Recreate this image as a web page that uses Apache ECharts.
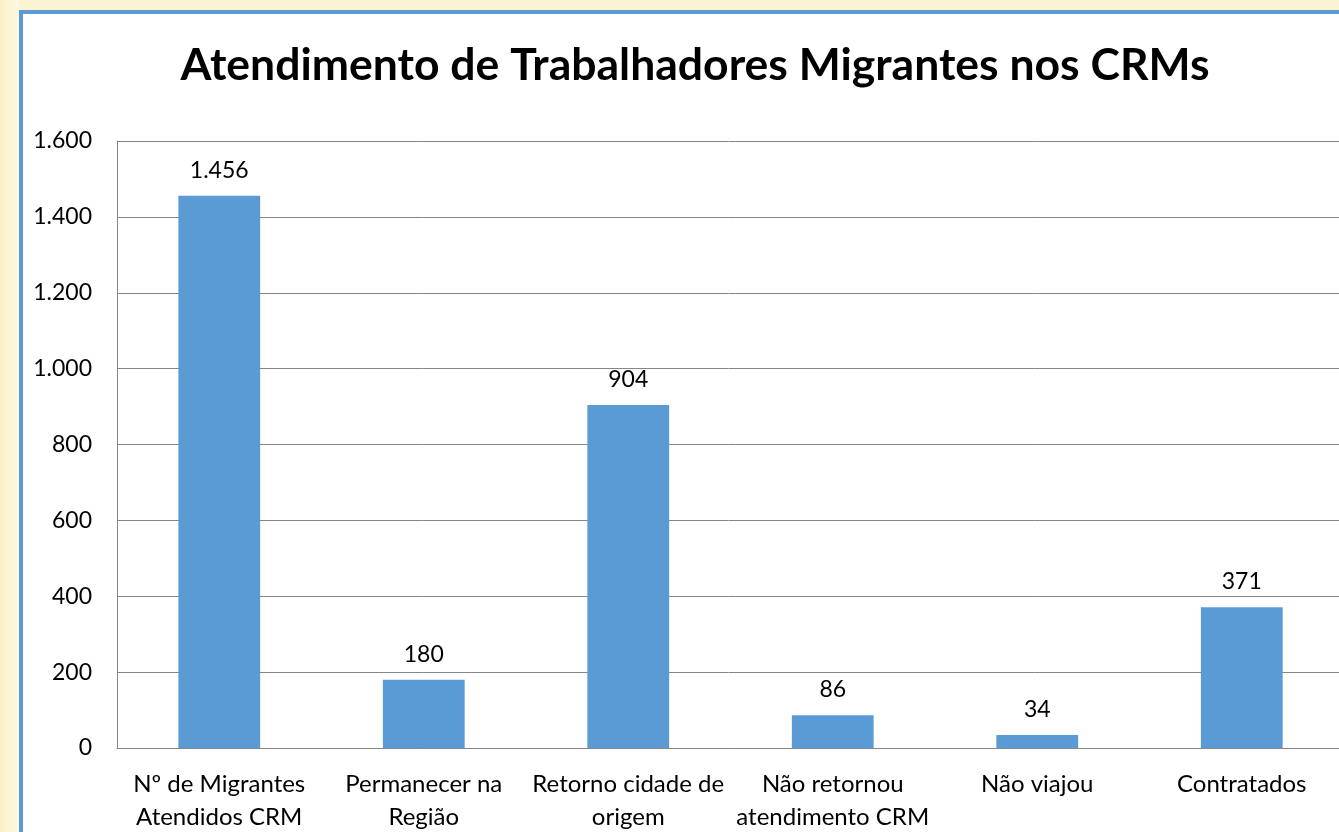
<!DOCTYPE html>
<html><head><meta charset="utf-8">
<script src="https://cdn.jsdelivr.net/npm/echarts@6/dist/echarts.min.js"></script>
<style>html,body{margin:0;padding:0;overflow:hidden;background:#faf4d3}#c{width:1339px;height:832px}</style>
</head><body><div id="c"></div>
<script>
const categories = ["Nº de Migrantes\nAtendidos CRM","Permanecer na\nRegião","Retorno cidade de\norigem","Não retornou\natendimento CRM","Não viajou","Contratados"];
const values = [1456,180,904,86,34,371];
const yTicks = [0,200,400,600,800,1000,1200,1400,1600];
const titleText = "Atendimento de Trabalhadores Migrantes nos CRMs";
const fmt = v => String(v).replace(/\B(?=(\d{3})+(?!\d))/g, ".");
const chart = echarts.init(document.getElementById('c'), null, {renderer:'canvas'});
const FONT = "Lato";
chart.setOption({
  animation:false,
  backgroundColor:'#faf4d3',
  graphic:[
    {type:'rect',z:-10,shape:{x:0,y:0,width:19,height:832},style:{fill:new echarts.graphic.LinearGradient(0,0,1,0,[{offset:0,color:'#fbf1c8'},{offset:1,color:'#fdf8e2'}])}},
    {type:'rect',z:-9,shape:{x:21,y:12,width:1340,height:840},style:{fill:'#ffffff',stroke:'#5b9bd5',lineWidth:4}}
  ],
  title:{text:titleText,left:690,top:38,textAlign:'center',textStyle:{fontFamily:FONT,fontWeight:'bold',fontSize:44.5,color:'#000'}},
  grid:{left:117,right:-5,top:141,bottom:84,outerBoundsMode:'none',containLabel:false},
  xAxis:{type:'category',data:categories,
    axisLine:{lineStyle:{color:'#868686',width:1}},axisTick:{show:false},
    axisLabel:{interval:0,fontFamily:FONT,fontSize:24,color:'#000',lineHeight:33,margin:20}},
  yAxis:{type:'value',min:0,max:1600,interval:200,
    axisLine:{show:true,lineStyle:{color:'#868686'}},axisTick:{show:false},
    splitLine:{lineStyle:{color:'#868686',width:1}},
    axisLabel:{fontFamily:FONT,fontSize:23,color:'#000',margin:25,formatter:v=>yTicks.includes(v)?fmt(v):''}},
  series:[{type:'bar',data:values,barWidth:'40%',itemStyle:{color:'#5b9bd5'},
    label:{show:true,position:'top',distance:14,fontFamily:FONT,fontSize:23,color:'#000',formatter:p=>fmt(p.value)}}]
});
</script></body></html>
